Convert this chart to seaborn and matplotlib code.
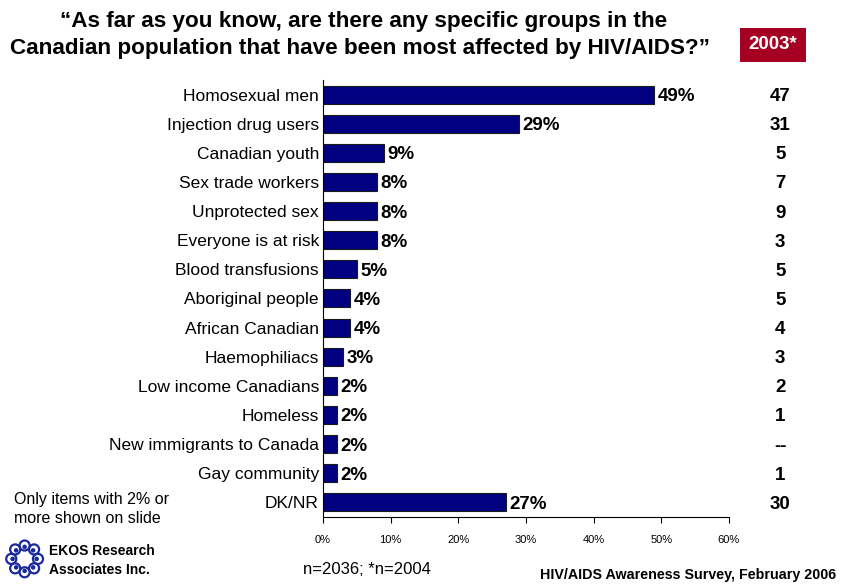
import matplotlib
matplotlib.use("Agg")
import matplotlib.pyplot as plt
from matplotlib import font_manager
import seaborn as sns
import numpy as np
import pandas as pd

categories = ["Homosexual men", "Injection drug users", "Canadian youth",
              "Sex trade workers", "Unprotected sex", "Everyone is at risk",
              "Blood transfusions", "Aboriginal people", "African Canadian",
              "Haemophiliacs", "Low income Canadians", "Homeless",
              "New immigrants to Canada", "Gay community", "DK/NR"]
values_2006 = [49, 29, 9, 8, 8, 8, 5, 4, 4, 3, 2, 2, 2, 2, 27]
values_2003 = ["47", "31", "5", "7", "9", "3", "5", "5", "4", "3", "2", "1", "--", "1", "30"]
x_ticks = [0, 10, 20, 30, 40, 50, 60]

sns.set_theme(style="white")
names = {f.name for f in font_manager.fontManager.ttflist}
narrow = "Liberation Sans Narrow" if "Liberation Sans Narrow" in names else "Liberation Sans"
plt.rcParams["font.family"] = [narrow, "DejaVu Sans"]
plt.rcParams["text.color"] = "black"
plt.rcParams["xtick.color"] = "black"
plt.rcParams["ytick.color"] = "black"

df = pd.DataFrame({"group": categories, "pct": values_2006})

fig = plt.figure(figsize=(8.49, 5.84), dpi=100)
ax = fig.add_axes([0.3805, 0.115, 0.478, 0.748])

sns.barplot(data=df, x="pct", y="group", orient="h", color="#000080",
            saturation=1, width=0.62, edgecolor="#1a1a1a", linewidth=0.8, ax=ax)

ax.set_xlim(0, 60)
ax.set_ylim(len(categories) - 0.5, -0.5)
ax.set_xticks(x_ticks)
ax.set_xticklabels([f"{t}%" for t in x_ticks], fontsize=8)
ax.tick_params(axis="x", length=4, width=0.8, color="black", direction="out", pad=9, bottom=True)
ax.tick_params(axis="y", length=0, labelsize=12.5, pad=3)
ax.set_xlabel("")
ax.set_ylabel("")
for s in ["top", "right"]:
    ax.spines[s].set_visible(False)
for s in ["left", "bottom"]:
    ax.spines[s].set_visible(True)
    ax.spines[s].set_color("black")
    ax.spines[s].set_linewidth(0.8)

for i, v in enumerate(values_2006):
    ax.text(v + 0.5, i, f"{v}%", va="center_baseline", ha="left", fontsize=13.5,
            fontweight="bold", color="black")

# 2003 comparison column
for i, v in enumerate(values_2003):
    ax.text(67.6, i, v, va="center_baseline", ha="center", fontsize=13.5,
            fontweight="bold", color="black", clip_on=False)

# Title
fig.text(0.428, 0.964, "\u201cAs far as you know, are there any specific groups in the",
         ha="center", va="center", fontsize=16.2, fontweight="bold")
fig.text(0.424, 0.917, "Canadian population that have been most affected by HIV/AIDS?\u201d",
         ha="center", va="center", fontsize=16.2, fontweight="bold")

# 2003 header box
fig.text(0.9105, 0.923, "2003*", ha="center", va="center", fontsize=13.5,
         fontweight="bold", color="white",
         bbox=dict(boxstyle="square,pad=0.45", facecolor="#A50021", edgecolor="none"))

# Footnotes
fig.text(0.016, 0.129, "Only items with 2% or\nmore shown on slide", ha="left", va="center",
         fontsize=11.5, linespacing=1.35)
fig.text(0.432, 0.025, "n=2036; *n=2004", ha="center", va="center", fontsize=12)
fig.text(0.985, 0.016, "HIV/AIDS Awareness Survey, February 2006", ha="right", va="center",
         fontsize=10.3, fontweight="bold")
fig.text(0.058, 0.040, "EKOS Research\nAssociates Inc.", ha="left", va="center",
         fontsize=10, fontweight="bold", linespacing=1.4)

# Logo mark: ring of small blue loops
lax = fig.add_axes([0.004, 0.008, 0.05, 0.07])
lax.set_xlim(-1.3, 1.3)
lax.set_ylim(-1.3, 1.3)
lax.set_aspect("equal")
lax.axis("off")
for k in range(8):
    a = 2 * np.pi * k / 8
    cx, cy = 0.85 * np.cos(a), 0.85 * np.sin(a)
    lax.add_patch(plt.Circle((cx, cy), 0.32, facecolor="none", edgecolor="#1a2a9a", linewidth=1.6))
    lax.add_patch(plt.Circle((cx * 0.9, cy * 0.9), 0.1, color="#1a2a9a"))

fig.savefig("out.png", dpi=100, facecolor="white")
